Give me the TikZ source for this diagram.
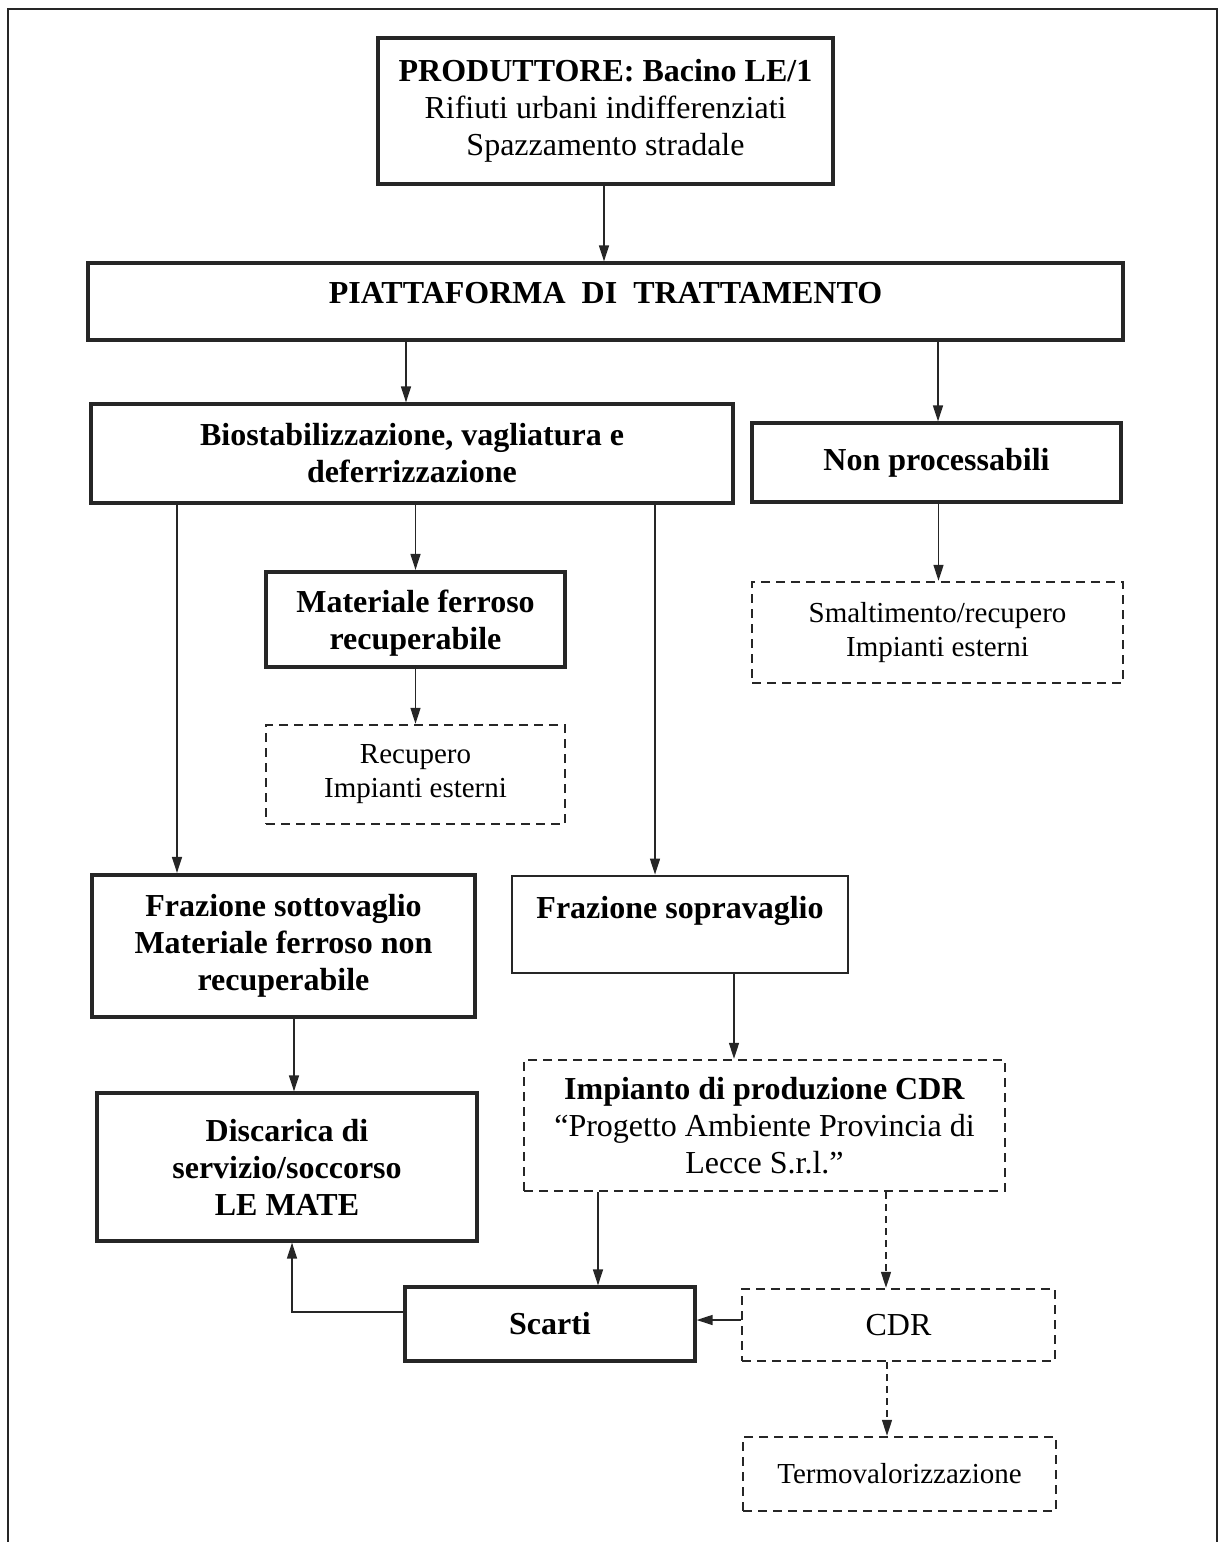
\documentclass[tikz,border=0pt]{standalone}
\usepackage{fontspec}
\setmainfont{Liberation Serif}
\usetikzlibrary{arrows.meta}
\begin{document}
\begin{tikzpicture}[x=1pt,y=-1pt,
  base/.style={draw=black!85, rectangle, inner sep=0pt, align=center,
    font=\fontsize{32}{37}\selectfont},
  solidbox/.style={base, line width=3.2pt},
  thickbox/.style={base, line width=4.2pt},
  dashbox/.style={base, line width=2.4pt, dash pattern=on 9pt off 6pt},
  smalltext/.style={font=\fontsize{29}{34}\selectfont},
  arr/.style={line width=1.4pt, draw=black!85, -{Triangle[length=16pt,width=10pt]}},
  darr/.style={arr, dash pattern=on 7pt off 5pt},
  frame/.style={line width=2.4pt, draw=black!85}
]
\useasboundingbox (0,0) rectangle (1223,1542);
\draw[frame] (8,1545) -- (8,9) -- (1217,9) -- (1217,1545);

\node[solidbox, minimum width=455, minimum height=146] (prod) at (605.5,111)
  {\textbf{PRODUTTORE: Bacino LE/1}\\Rifiuti urbani indifferenziati\\Spazzamento stradale};
\node[solidbox, minimum width=1035, minimum height=77, text height=24pt, text depth=20pt] (piatt) at (605.5,301.5)
  {\textbf{PIATTAFORMA\ \ DI\ \ TRATTAMENTO}};
\node[solidbox, minimum width=642, minimum height=99] (bio) at (412,453.5)
  {\textbf{Biostabilizzazione, vagliatura e}\\\textbf{deferrizzazione}};
\node[solidbox, minimum width=369, minimum height=79] (nonp) at (936.5,462.5)
  {\textbf{Non processabili}};
\node[thickbox, minimum width=299, minimum height=95] (mat) at (415.5,619.5)
  {\rule{0pt}{30pt}\textbf{Materiale ferroso}\\\textbf{recuperabile}};
\node[dashbox, smalltext, minimum width=299, minimum height=99] (recup) at (415.5,774.5)
  {Recupero\\Impianti esterni};
\node[dashbox, smalltext, minimum width=371, minimum height=101] (smalt) at (937.5,632.5)
  {Smaltimento/recupero\\Impianti esterni};
\node[thickbox, minimum width=383, minimum height=142] (sotto) at (283.5,946)
  {\textbf{Frazione sottovaglio}\\\textbf{Materiale ferroso non}\\\textbf{recuperabile}};
\node[solidbox, line width=2.8pt, minimum width=336, minimum height=97, text height=22pt, text depth=34pt] (sopra) at (680,924.5)
  {\textbf{Frazione sopravaglio}};
\node[solidbox, minimum width=380, minimum height=148] (disc) at (287,1167)
  {\textbf{Discarica di}\\\textbf{servizio/soccorso}\\\textbf{LE MATE}};
\node[dashbox, minimum width=481, minimum height=131] (imp) at (764.5,1125.5)
  {\textbf{Impianto di produzione CDR}\\``Progetto Ambiente Provincia di\\Lecce S.r.l.''};
\node[solidbox, minimum width=290, minimum height=74] (scarti) at (550,1324)
  {\textbf{Scarti}};
\node[dashbox, minimum width=313, minimum height=72] (cdr) at (898.5,1325)
  {CDR};
\node[dashbox, smalltext, minimum width=313, minimum height=74] (termo) at (899.5,1474)
  {Termovalorizzazione};

% connectors
\draw[arr] ([xshift=-1.5]prod.south) -- ([xshift=-1.5]prod.south |- piatt.north);
\draw[arr] ([xshift=-6]bio.north |- piatt.south) -- ([xshift=-6]bio.north);
\draw[arr] ([xshift=1.5]nonp.north |- piatt.south) -- ([xshift=1.5]nonp.north);
\draw[arr] ([xshift=-106.5]sotto.north |- bio.south) -- ([xshift=-106.5]sotto.north);
\draw[arr] (mat.north |- bio.south) -- (mat.north);
\draw[arr] ([xshift=-25]sopra.north |- bio.south) -- ([xshift=-25]sopra.north);
\draw[arr] (mat.south) -- (recup.north);
\draw[arr] ([xshift=2]nonp.south) -- ([xshift=2]nonp.south |- smalt.north);
\draw[arr] ([xshift=10.5]sotto.south) -- ([xshift=10.5]sotto.south |- disc.north);
\draw[arr] ([xshift=54]sopra.south) -- ([xshift=54]sopra.south |- imp.north);
\draw[arr] ([xshift=48]scarti.north |- imp.south) -- ([xshift=48]scarti.north);
\draw[darr] ([xshift=-12.5]cdr.north |- imp.south) -- ([xshift=-12.5]cdr.north);
\draw[arr] ([yshift=5]cdr.west) -- ([yshift=5]cdr.west -| scarti.east);
\draw[arr] ([yshift=12]scarti.west) -| ([xshift=5]disc.south);
\draw[darr] ([xshift=-11.5]cdr.south) -- ([xshift=-11.5]cdr.south |- termo.north);
\end{tikzpicture}
\end{document}
